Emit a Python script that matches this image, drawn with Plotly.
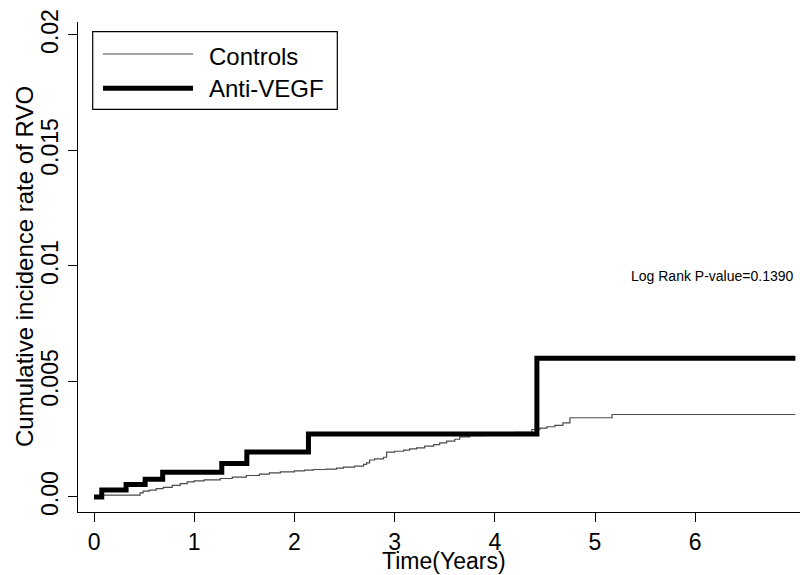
import plotly.graph_objects as go

# ---- data ----
ctrl_t = [0, 0.08, 0.46, 0.49, 0.55, 0.62, 0.69, 0.78, 0.86, 0.93, 1.0, 1.1, 1.26, 1.38,
          1.52, 1.65, 1.75, 1.86, 2.0, 2.1, 2.19, 2.32, 2.42, 2.49, 2.6, 2.69, 2.72, 2.75,
          2.8, 2.89, 2.92, 3.0, 3.09, 3.15, 3.22, 3.3, 3.39, 3.45, 3.52, 3.6, 3.65, 3.75,
          3.9, 4.05, 4.2, 4.37, 4.45, 4.52, 4.6, 4.68, 4.75, 5.17, 7.0]
ctrl_v = [0, 0.00008, 0.00018, 0.00025, 0.0003, 0.00036, 0.00042, 0.0005, 0.00058, 0.00065,
          0.0007, 0.00074, 0.0008, 0.00086, 0.00093, 0.00099, 0.00104, 0.00109, 0.00113,
          0.00116, 0.00119, 0.00121, 0.00125, 0.00129, 0.00134, 0.00141, 0.00148, 0.0016,
          0.00165, 0.00172, 0.00194, 0.00198, 0.00203, 0.00208, 0.00213, 0.0022, 0.00227,
          0.00234, 0.00242, 0.0025, 0.0026, 0.00266, 0.0027, 0.00275, 0.0028, 0.00292,
          0.00298, 0.00304, 0.0031, 0.00321, 0.00343, 0.00357, 0.00357]

anti_t = [0, 0.077, 0.32, 0.51, 0.685, 1.275, 1.525, 2.14, 4.42, 7.0]
anti_v = [0, 0.0003, 0.00054, 0.00077, 0.00107, 0.00145, 0.00195, 0.00273, 0.006, 0.006]

x_ticks = [0, 1, 2, 3, 4, 5, 6]
y_ticks = [0, 0.005, 0.01, 0.015, 0.02]
y_ticktext = ["0.00", "0.005", "0.01", "0.015", "0.02"]
series_names = ["Controls", "Anti-VEGF"]
x_title = "Time(Years)"
y_title = "Cumulative incidence rate of RVO"
pvalue_text = "Log Rank P-value=0.1390"

FONT = "Liberation Sans, Arial, sans-serif"

fig = go.Figure()
fig.add_trace(go.Scatter(x=ctrl_t, y=ctrl_v, mode="lines", line=dict(shape="hv", color="#4a4a4a", width=1.2),
                         name=series_names[0], showlegend=False))
fig.add_trace(go.Scatter(x=anti_t, y=anti_v, mode="lines", line=dict(shape="hv", color="black", width=5),
                         name=series_names[1], showlegend=False))

# layout helpers (pixel -> paper)
W, H, L, T = 722, 490, 78, 22
def px(x):
    return (x - L) / W
def py(y):
    return (T + H - y) / H

# manual legend
fig.add_shape(type="rect", xref="paper", yref="paper", x0=px(92.7), x1=px(337.3), y0=py(109.3), y1=py(31.7),
              line=dict(color="black", width=1.2), fillcolor="white")
fig.add_shape(type="line", xref="paper", yref="paper", x0=px(103), x1=px(193), y0=py(54), y1=py(54),
              line=dict(color="#4a4a4a", width=1.2))
fig.add_shape(type="line", xref="paper", yref="paper", x0=px(103), x1=px(193), y0=py(88.3), y1=py(88.3),
              line=dict(color="black", width=5))
fig.add_annotation(xref="paper", yref="paper", x=px(207), y=py(56), text=series_names[0], showarrow=False,
                   xanchor="left", yanchor="middle", font=dict(family=FONT, size=24, color="black"))
fig.add_annotation(xref="paper", yref="paper", x=px(207), y=py(89), text=series_names[1], showarrow=False,
                   xanchor="left", yanchor="middle", font=dict(family=FONT, size=24, color="black"))
fig.add_annotation(xref="paper", yref="paper", x=px(795), y=py(276), text=pvalue_text, showarrow=False,
                   xanchor="right", yanchor="middle", font=dict(family=FONT, size=14, color="black"))

# axis titles
fig.add_annotation(xref="paper", yref="paper", x=px(444), y=py(561), text=x_title, showarrow=False,
                   xanchor="center", yanchor="middle", font=dict(family=FONT, size=23, color="black"))
fig.add_annotation(xref="paper", yref="paper", x=px(24), y=py(267), text=y_title, showarrow=False,
                   textangle=-90, xanchor="center", yanchor="middle",
                   font=dict(family=FONT, size=24, color="black"))

fig.update_layout(
    width=800, height=575,
    margin=dict(l=L, r=0, t=T, b=575 - T - H),
    plot_bgcolor="white", paper_bgcolor="white",
    font=dict(family=FONT, size=23, color="black"),
    xaxis=dict(range=[-0.16, 7.046], tickvals=x_ticks, ticks="outside", ticklen=9, tickwidth=1,
               tickcolor="black", showline=True, linecolor="black", linewidth=1.2,
               showgrid=False, zeroline=False, tickfont=dict(size=23), automargin=False),
    yaxis=dict(range=[-0.00065, 0.02056], tickvals=y_ticks, ticktext=y_ticktext, tickangle=-90,
               ticks="outside", ticklen=9, tickwidth=1, tickcolor="black", showline=True,
               linecolor="black", linewidth=1.2, showgrid=False, zeroline=False,
               tickfont=dict(size=23), automargin=False, ticklabelstandoff=1),
)

fig.write_html("out.html", config={"displayModeBar": False},
               post_script="document.body.style.margin='0px';document.body.style.overflow='hidden';")
